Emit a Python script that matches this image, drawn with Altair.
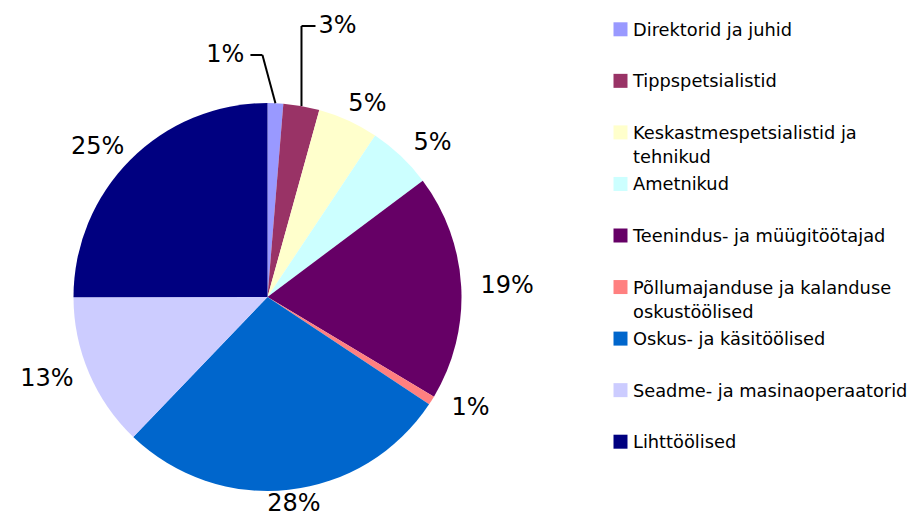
import altair as alt
import pandas as pd

categories = [
    "Direktorid ja juhid",
    "Tippspetsialistid",
    "Keskastmespetsialistid ja tehnikud",
    "Ametnikud",
    "Teenindus- ja müügitöötajad",
    "Põllumajanduse ja kalanduse oskustöölised",
    "Oskus- ja käsitöölised",
    "Seadme- ja masinaoperaatorid",
    "Lihttöölised",
]
shares = [1.3, 3.0, 5.05, 5.4, 18.8, 0.75, 27.8, 12.8, 25.0]
colors = ["#9999FF", "#993366", "#FFFFCC", "#CCFFFF", "#660066",
          "#FF8080", "#0066CC", "#CCCCFF", "#000080"]

df = pd.DataFrame({"category": categories, "share": shares,
                   "idx": list(range(len(categories)))})

W, H = 519, 421
TOP = 78.5
CX, CY = W / 2, H / 2
R = 194
FONT = "DejaVu Sans"

color = alt.Color("category:N", scale=alt.Scale(domain=categories, range=colors),
                  legend=None)

base = alt.Chart(df)

pie = base.mark_arc(radius=R).encode(
    theta=alt.Theta("share:Q", stack=True),
    color=color,
    order=alt.Order("idx:Q"),
)

geo = (
    base.transform_joinaggregate(total="sum(share)")
    .transform_window(cum="sum(share)", sort=[alt.SortField("idx")], frame=[None, 0])
    .transform_calculate(mid="2*PI*(datum.cum - datum.share/2)/datum.total")
    .transform_calculate(label="format(datum.share/datum.total, '.0%')")
    .transform_calculate(leader="datum.share < 4 && (datum.cum/datum.total) < 0.1")
)

plain = (
    geo.transform_filter("!datum.leader")
    .transform_calculate(px=f"{CX} + 240*sin(datum.mid)")
    .transform_calculate(py=f"{CY} - (cos(datum.mid) < 0 ? 208 : 212)*cos(datum.mid)")
    .mark_text(font=FONT, fontSize=24, align="center", baseline="middle", color="black")
    .encode(x=alt.X("px:Q", scale=None), y=alt.Y("py:Q", scale=None), text="label:N")
)

lead = (
    geo.transform_filter("datum.leader")
    .transform_calculate(side="datum.idx % 2 == 0 ? -1 : 1")
    .transform_calculate(ex=f"{CX} + {R}*sin(datum.mid)")
    .transform_calculate(ey=f"{CY} - {R}*cos(datum.mid)")
    .transform_calculate(ky=f"{CY} - (datum.side < 0 ? 242 : 271)")
    .transform_calculate(kx="datum.side < 0 ? datum.ex - 13 : datum.ex")
    .transform_calculate(tx="datum.side < 0 ? datum.ex - 25 : datum.ex + 14")
    .transform_calculate(lx="datum.side < 0 ? datum.ex - 31 : datum.ex + 17")
)

rule1 = lead.mark_rule(color="black", strokeWidth=2).encode(
    x=alt.X("ex:Q", scale=None), y=alt.Y("ey:Q", scale=None), x2="kx:Q", y2="ky:Q")
rule2 = lead.mark_rule(color="black", strokeWidth=2).encode(
    x=alt.X("kx:Q", scale=None), y=alt.Y("ky:Q", scale=None), x2="tx:Q", y2="ky:Q")
lead_left = lead.transform_filter("datum.side < 0").mark_text(
    font=FONT, fontSize=24, align="right", baseline="middle", color="black"
).encode(x=alt.X("lx:Q", scale=None), y=alt.Y("ky:Q", scale=None), text="label:N")
lead_right = lead.transform_filter("datum.side > 0").mark_text(
    font=FONT, fontSize=24, align="left", baseline="middle", color="black"
).encode(x=alt.X("lx:Q", scale=None), y=alt.Y("ky:Q", scale=None), text="label:N")

leg_y = alt.Y("category:N", axis=None,
              scale=alt.Scale(domain=categories, range=[29.3 - 8 - TOP, 441.7 - 8 - TOP],
                              padding=0))
leg_sq = base.mark_square(size=196, opacity=1).encode(
    x=alt.value(612.5), y=leg_y, color=color)
leg_tx = base.transform_calculate(
    disp="replace(replace(datum.category, ' tehnikud', '\\ntehnikud'), ' oskustöölised', '\\noskustöölised')"
).mark_text(font=FONT, fontSize=17.8, align="left", baseline="alphabetic", dy=6.5,
            lineBreak="\n", lineHeight=24.4, color="black").encode(
    x=alt.value(625), y=leg_y, text="disp:N")

chart = (
    alt.layer(pie, plain, rule1, rule2, lead_left, lead_right, leg_sq, leg_tx)
    .resolve_scale(x="independent", y="independent")
    .properties(width=W, height=H,
                padding={"left": 0, "top": TOP, "right": 906 - W, "bottom": 510 - H - TOP},
                autosize=alt.AutoSizeParams(type="none"), background="white")
    .configure_view(strokeWidth=0)
)

chart.save("out.html", embed_options={"renderer": "svg", "actions": False})
